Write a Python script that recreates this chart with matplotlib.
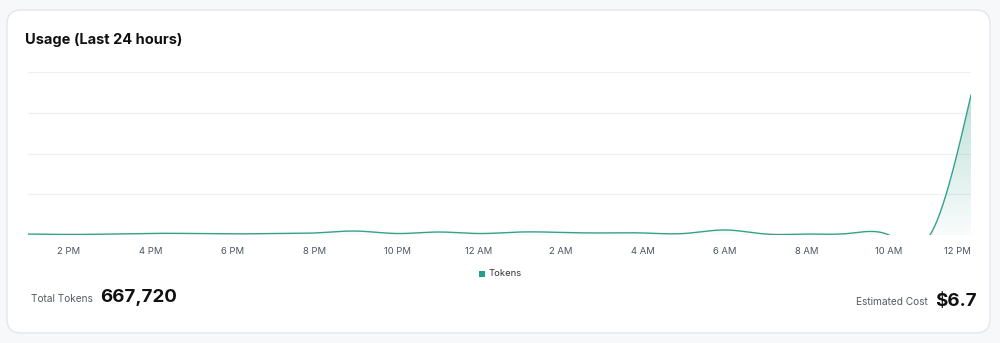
"""Usage card: hourly token usage over the last 24 hours."""

import numpy as np
import matplotlib

matplotlib.use("Agg")
import matplotlib.pyplot as plt
from matplotlib.colors import LinearSegmentedColormap
from matplotlib.patches import FancyBboxPatch, Rectangle

plt.rcParams["font.family"] = ["Inter", "DejaVu Sans"]

# hourly token counts, 1 PM .. 12 PM (next day)
hours = list(range(24))
tokens = [3500, 2000, 3500, 6000, 5500, 4000, 5500, 7500, 14500, 5500,
          11000, 5500, 11000, 9500, 7500, 7500, 5500, 18500, 3500, 3500,
          5500, 0, 0, 515000]
tick_hours = [1, 3, 5, 7, 9, 11, 13, 15, 17, 19, 21, 23]
tick_labels = ["2 PM", "4 PM", "6 PM", "8 PM", "10 PM", "12 AM",
               "2 AM", "4 AM", "6 AM", "8 AM", "10 AM", "12 PM"]
y_max = 600000
total_tokens = "667,720"
estimated_cost = "$6.7"

LINE = "#34a28b"
GRID = "#eef0f3"
TICK = "#4b5563"


def natural_spline(x, y, per_seg=40):
    """Natural cubic spline through the points (same curve type as the chart)."""
    x = np.asarray(x, float)
    y = np.asarray(y, float)
    n = len(x)
    h = np.diff(x)
    a = np.zeros((n, n))
    b = np.zeros(n)
    a[0, 0] = a[-1, -1] = 1.0
    for i in range(1, n - 1):
        a[i, i - 1] = h[i - 1]
        a[i, i] = 2 * (h[i - 1] + h[i])
        a[i, i + 1] = h[i]
        b[i] = 6 * ((y[i + 1] - y[i]) / h[i] - (y[i] - y[i - 1]) / h[i - 1])
    m = np.linalg.solve(a, b)
    xs, ys = [], []
    for i in range(n - 1):
        t = np.linspace(x[i], x[i + 1], per_seg, endpoint=(i == n - 2))
        d0 = x[i + 1] - t
        d1 = t - x[i]
        s = (m[i] * d0 ** 3 + m[i + 1] * d1 ** 3) / (6 * h[i]) \
            + (y[i] / h[i] - m[i] * h[i] / 6) * d0 \
            + (y[i + 1] / h[i] - m[i + 1] * h[i] / 6) * d1
        xs.append(t)
        ys.append(s)
    return np.concatenate(xs), np.concatenate(ys)


fig = plt.figure(figsize=(10, 3.43), dpi=100)
fig.patch.set_facecolor("#f7f8fa")

W, H = 1000, 343
card = FancyBboxPatch((7 / W, 10 / H), 983 / W, 323 / H,
                      boxstyle="round,pad=0,rounding_size=0.014",
                      transform=fig.transFigure, facecolor="white",
                      edgecolor="#e3e6ea", linewidth=1.0,
                      mutation_aspect=W / H, zorder=-5)
fig.patches.append(card)

ax = fig.add_axes([28 / W, 108 / H, 943 / W, 163 / H], zorder=2)
ax.set_facecolor("none")

xs, ys = natural_spline(hours, tokens)
poly = ax.fill_between(xs, np.clip(ys, 0, None), 0, color="none", linewidth=0)

grad = LinearSegmentedColormap.from_list(
    "tokfill", [(0.204, 0.635, 0.545, 0.03), (0.204, 0.635, 0.545, 0.32)])
img = ax.imshow(np.linspace(0, 1, 256).reshape(-1, 1), cmap=grad,
                origin="lower", aspect="auto",
                extent=[hours[0], hours[-1], 0, max(tokens)], zorder=1)
img.set_clip_path(poly.get_paths()[0], transform=ax.transData)

ax.plot(xs, ys, color=LINE, linewidth=1.0, zorder=3)

ax.set_xlim(hours[0], hours[-1])
ax.set_ylim(0, y_max)
ax.set_yticks(np.linspace(0, y_max, 5))
ax.yaxis.grid(True, color=GRID, linewidth=0.9)
ax.set_axisbelow(True)
ax.tick_params(axis="y", left=False, labelleft=False)
ax.set_xticks(tick_hours)
ax.set_xticklabels(tick_labels, fontsize=6.8, color=TICK)
ax.tick_params(axis="x", length=0, pad=9)
ax.get_xticklabels()[-1].set_horizontalalignment("right")
ax.get_xticklabels()[-1].set_x(tick_hours[-1] + 0.06)
for side in ax.spines.values():
    side.set_visible(False)

# title
fig.text(25 / W, 1 - 40 / H, "Usage (Last 24 hours)", fontsize=10.5,
         fontweight="bold", color="#111111", va="center", ha="left")

# legend
fig.patches.append(Rectangle((479 / W, 1 - 276.5 / H), 6 / W, 6 / H,
                             transform=fig.transFigure, facecolor="#23a08a",
                             edgecolor="none"))
fig.text(489 / W, 1 - 273.5 / H, "Tokens", fontsize=6.8, color="#333333",
         va="center", ha="left")

# totals
fig.text(31 / W, 1 - 299 / H, "Total Tokens", fontsize=7.3, color="#555b66",
         va="center", ha="left")
fig.text(100 / W, 1 - 298 / H, total_tokens, fontsize=13.5, fontweight="bold",
         color="#111111", va="center", ha="left")
fig.text(928 / W, 1 - 302 / H, "Estimated Cost", fontsize=7.3, color="#555b66",
         va="center", ha="right")
fig.text(935 / W, 1 - 301 / H, estimated_cost, fontsize=13.5, fontweight="bold",
         color="#111111", va="center", ha="left")

fig.savefig("out.png", dpi=100, facecolor=fig.get_facecolor())
